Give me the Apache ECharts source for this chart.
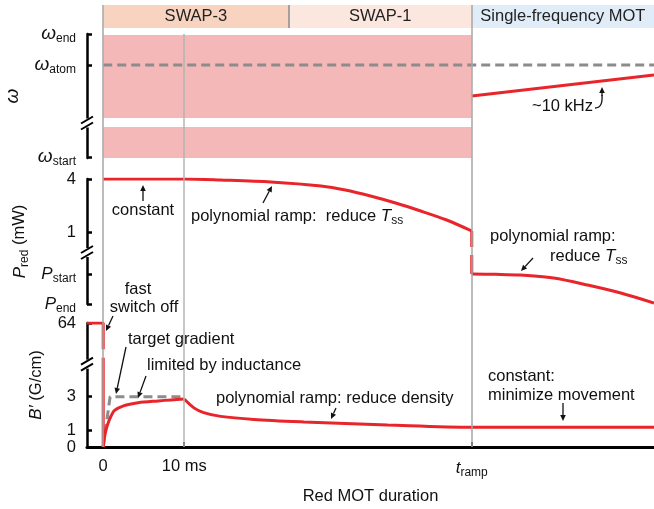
<!DOCTYPE html>
<html>
<head>
<meta charset="utf-8">
<script src="https://cdn.jsdelivr.net/npm/echarts@6/dist/echarts.min.js"></script>
<style>
  html, body { margin: 0; padding: 0; background: #fff; }
  #chart { width: 654px; height: 509px; }
</style>
</head>
<body>
<div id="chart"></div>
<script>
// time axis (ms), schematic
const xMin = -2;
const xMax = 68;
const tRamp = 45.5;
const xTickValues = [0, 10, tRamp];
const xTickLabels = ['0', '10 ms', '{i|t}{s|ramp}'];

// stage bands along the top
const bandNames = ['SWAP-3', 'SWAP-1', 'Single-frequency MOT'];
const bandStart = [0, 22.9, tRamp];
const bandEnd = [22.9, tRamp, xMax];
const bandColors = ['#f8d4c0', '#fce7df', '#e0edf8'];

// omega panel (schematic levels, axis broken)
const omegaTicks = [1, 93, 124];
const omegaTickLabels = ['{w|ω}{s|start}', '{w|ω}{s|atom}', '{w|ω}{s|end}'];
const omegaAtom = 93;
const omegaBreak = 35.5;
const sweepLow = [0, 31];     // pink sweep range below the break
const sweepHigh = [40, 123];  // pink sweep range above the break
const omegaRampT = [tRamp, xMax];
const omegaRamp = [62, 83];

// red power panel (schematic levels, axis broken)
const pTicks = [0, 30, 72, 125];
const pTickLabels = ['{i|P}{s|end}', '{i|P}{s|start}', '1', '4'];
const pBreak = 52;
const pHoldT = [0, 10.1, 14.5, 20.7, 26.9, 29.9, 33.0, 36.1, 39.2, 42.4, tRamp];
const pHold = [125, 125, 124, 122, 118, 114, 108, 101, 93, 84, 73];
const pDropT = [tRamp, tRamp];
const pDropUpper = [73, 57];
const pDropLower = [49, 30];
const pRampT = [tRamp, 48.5, 51.5, 55.6, 59.8, 63.9, xMax];
const pRamp = [30, 29.7, 29, 26, 19, 11, 1];

// gradient panel (G/cm below the break, 64 G/cm drawn at the top)
const bTicks = [0, 1, 3, 7.29];
const bTickLabels = ['0', '1', '3', '64'];
const bBreak = 4.9;
const bSwitchT = [xMin, 0, 0];
const bSwitch = [7.29, 7.29, 5.75];
const bOffT = [0, 0];
const bOff = [5.25, 0];
const bRiseT = [0, 0.15, 0.35, 0.6, 1.0, 1.4, 2.5, 4.3, 6.8, 8.4, 10];
const bRise = [0, 0.55, 1.0, 1.4, 1.85, 2.15, 2.42, 2.6, 2.71, 2.77, 2.82];
const bDecayT = [10, 11.2, 12.4, 14.5, 18.6, 24.8, 29.9, 35.1, tRamp, xMax];
const bDecay = [2.82, 2.3, 2.02, 1.8, 1.62, 1.47, 1.38, 1.29, 1.16, 1.16];
const bTargetT = [0, 0.85, 10];
const bTarget = [0, 2.95, 2.95];

const RED = '#e8252a';
const GRAY = '#8c8c8c';
const FONT = 'Liberation Sans';
const rich = {
  i: { fontStyle: 'italic', fontSize: 17, fontFamily: FONT, color: '#111' },
  w: { fontStyle: 'italic', fontSize: 19, fontFamily: FONT, color: '#111' },
  s: { fontSize: 12, fontFamily: FONT, color: '#111', padding: [9, 0, 0, 0] }
};

const zip = (xs, ys) => xs.map((x, k) => [x, ys[k]]);
const labelFor = (vals, labs) => v => {
  const k = vals.findIndex(u => Math.abs(u - v) < 1e-6);
  return k < 0 ? '' : labs[k];
};

const chart = echarts.init(document.getElementById('chart'));

const grids = [
  { top: 34, height: 124 },
  { top: 179, height: 125 },
  { top: 323, height: 124 },
  { top: 5, height: 23 },
  { top: 5, height: 442 },
  { top: 34, height: 413 }
].map(g => Object.assign({ left: 87, right: 0, outerBoundsMode: 'none', containLabel: false }, g));

const xAxes = grids.map((g, k) => ({
  gridIndex: k, type: 'value', min: xMin, max: xMax, show: k === 2,
  splitLine: { show: false }
}));
Object.assign(xAxes[2], {
  axisLine: { onZero: false, lineStyle: { color: '#000', width: 3 } },
  axisTick: { show: true, inside: true, length: 5, customValues: [10, tRamp],
    lineStyle: { color: '#000', width: 2 } },
  axisLabel: { customValues: xTickValues, formatter: labelFor(xTickValues, xTickLabels),
    margin: 11, fontSize: 16.5, color: '#111', fontFamily: FONT, rich },
  name: 'Red MOT duration', nameLocation: 'middle', nameGap: 41,
  nameTextStyle: { fontSize: 16.5, color: '#111', fontFamily: FONT }
});

function yPanel(k, min, max, ticks, labels, name, gap) {
  return {
    gridIndex: k, type: 'value', min, max,
    splitLine: { show: false },
    axisLine: { show: true, onZero: false, lineStyle: { color: '#000', width: 2.5 } },
    axisTick: { show: true, inside: true, length: 5, customValues: ticks,
      lineStyle: { color: '#000', width: 2.5 } },
    axisLabel: { customValues: ticks, formatter: labelFor(ticks, labels),
      margin: 11, fontSize: 16.5, color: '#111', fontFamily: FONT, rich },
    name, nameLocation: 'middle', nameGap: gap, nameRotate: 90,
    nameTextStyle: { fontSize: 16.5, color: '#111', fontFamily: FONT, rich }
  };
}
const yAxes = [
  yPanel(0, 0, 124, omegaTicks, omegaTickLabels, '{w|ω}', 65),
  yPanel(1, 0, 125, pTicks, pTickLabels, '{i|P}{s|red} (mW)', 53),
  yPanel(2, 0, 7.29, bTicks, bTickLabels, '{i|B′} (G/cm)', 42),
  { gridIndex: 3, type: 'value', min: 0, max: 1, show: false },
  { gridIndex: 4, type: 'value', min: 0, max: 1, show: false },
  { gridIndex: 5, type: 'value', min: 0, max: 1, show: false }
];

function lineSeries(k, data, color, z, extra) {
  return Object.assign({
    type: 'line', xAxisIndex: k, yAxisIndex: k, data, showSymbol: false,
    symbol: 'none', silent: true, z,
    lineStyle: { color, width: 3 }
  }, extra || {});
}

function breakMark(k, level) {
  return {
    type: 'custom', xAxisIndex: k, yAxisIndex: k, z: 10, silent: true, clip: false,
    data: [[xMin, level]],
    renderItem: (params, api) => {
      const p = api.coord([api.value(0), api.value(1)]);
      const cx = p[0], cy = p[1];
      return {
        type: 'group', children: [
          { type: 'rect', shape: { x: cx - 3, y: cy - 4, width: 6, height: 9 }, style: { fill: '#fff' } },
          { type: 'line', shape: { x1: cx - 6, y1: cy + 1, x2: cx + 6, y2: cy - 6 }, style: { stroke: '#000', lineWidth: 2 } },
          { type: 'line', shape: { x1: cx - 6, y1: cy + 7, x2: cx + 6, y2: cy }, style: { stroke: '#000', lineWidth: 2 } }
        ]
      };
    }
  };
}

const series = [
  // stage bands
  lineSeries(3, [], '#fff', 1, {
    markArea: {
      silent: true,
      label: { show: true, position: 'inside', color: '#222', fontSize: 16.5, fontFamily: FONT },
      data: bandNames.map((n, k) => [
        { name: n, xAxis: bandStart[k], itemStyle: { color: bandColors[k] } },
        { xAxis: bandEnd[k] }
      ])
    }
  }),
  lineSeries(3, [], '#fff', 3, {
    markLine: { silent: true, symbol: 'none', label: { show: false },
      lineStyle: { color: '#8a8a8a', width: 1.5, type: 'solid' },
      data: [{ xAxis: bandStart[1] }] }
  }),
  // pink sweep region
  lineSeries(0, [], '#fff', 1, {
    markArea: {
      silent: true, itemStyle: { color: '#f4b8b9' },
      data: [sweepLow, sweepHigh].map(r => [
        { xAxis: 0, yAxis: r[0] }, { xAxis: tRamp, yAxis: r[1] }
      ])
    }
  }),
  // gray time markers
  lineSeries(4, [], '#fff', 2, {
    markLine: { silent: true, symbol: 'none', label: { show: false },
      lineStyle: { color: '#a6a6a6', width: 1.5, type: 'solid' },
      data: [{ xAxis: 0 }, { xAxis: tRamp }] }
  }),
  lineSeries(5, [], '#fff', 2, {
    markLine: { silent: true, symbol: 'none', label: { show: false },
      lineStyle: { color: '#b4b4b4', width: 1.5, type: 'solid' },
      data: [{ xAxis: 10 }] }
  }),
  // omega panel
  lineSeries(0, [[0, omegaAtom], [xMax, omegaAtom]], GRAY, 3,
    { lineStyle: { color: GRAY, width: 3, type: [9, 5] } }),
  lineSeries(0, zip(omegaRampT, omegaRamp), RED, 4),
  // power panel
  lineSeries(1, zip(pHoldT, pHold), RED, 4, { smooth: 0.3 }),
  lineSeries(1, zip(pDropT, pDropUpper), RED, 4),
  lineSeries(1, zip(pDropT, pDropLower), RED, 4),
  lineSeries(1, zip(pRampT, pRamp), RED, 4, { smooth: 0.3 }),
  // gradient panel
  lineSeries(2, zip(bTargetT, bTarget), GRAY, 3,
    { lineStyle: { color: GRAY, width: 3, type: [9, 5] } }),
  lineSeries(2, zip(bSwitchT, bSwitch), RED, 4),
  lineSeries(2, zip(bOffT, bOff), RED, 4),
  lineSeries(2, zip(bRiseT, bRise), RED, 4, { smooth: 0.3 }),
  lineSeries(2, zip(bDecayT, bDecay), RED, 4, { smooth: 0.3 }),
  breakMark(0, omegaBreak),
  breakMark(1, pBreak),
  breakMark(2, bBreak)
];

// annotation helpers (pixel layout)
function txt(x, y, text, align) {
  return { type: 'text', x, y, z: 30, silent: true,
    style: { text, fill: '#111', fontSize: 16.5, fontFamily: FONT,
      align: align || 'left', verticalAlign: 'middle', rich } };
}
function arrow(x1, y1, x2, y2) {
  const a = Math.atan2(y2 - y1, x2 - x1), L = 6, W = 2.8;
  const bx = x2 - L * Math.cos(a), by = y2 - L * Math.sin(a);
  return [
    { type: 'line', z: 30, silent: true, shape: { x1, y1, x2: bx, y2: by }, style: { stroke: '#111', lineWidth: 1.3 } },
    { type: 'polygon', z: 30, silent: true, shape: { points: [[x2, y2],
      [bx + W * Math.sin(a), by - W * Math.cos(a)], [bx - W * Math.sin(a), by + W * Math.cos(a)]] },
      style: { fill: '#111' } }
  ];
}

const graphic = [
  txt(143, 210, 'constant', 'center'), ...arrow(143, 201, 143, 185),
  txt(191, 216, 'polynomial ramp:  reduce {i|T}{s|ss}'), ...arrow(263, 203, 272, 186),
  txt(490, 236, 'polynomial ramp:'), txt(550, 256, 'reduce {i|T}{s|ss}'), ...arrow(533, 258, 521, 271),
  txt(138, 289, 'fast', 'center'), txt(144, 307, 'switch off', 'center'), ...arrow(113, 316, 106, 331),
  txt(128, 339, 'target gradient'), ...arrow(126, 347, 116, 394),
  txt(147, 365, 'limited by inductance'), ...arrow(146, 376, 138, 398),
  txt(216, 398, 'polynomial ramp: reduce density'), ...arrow(336, 408, 331, 419),
  txt(488, 376, 'constant:'), txt(488, 395, 'minimize movement'), ...arrow(563, 403, 563, 421),
  txt(532, 106, '~10 kHz'),
  { type: 'bezierCurve', z: 30, silent: true,
    shape: { x1: 595, y1: 108, cpx1: 603, cpy1: 108, x2: 602, y2: 95 },
    style: { stroke: '#111', lineWidth: 1.3, fill: null } },
  ...arrow(602, 96, 602, 87)
];

chart.setOption({
  animation: false,
  backgroundColor: '#fff',
  textStyle: { fontFamily: FONT },
  grid: grids,
  xAxis: xAxes,
  yAxis: yAxes,
  series,
  graphic
});
</script>
</body>
</html>
